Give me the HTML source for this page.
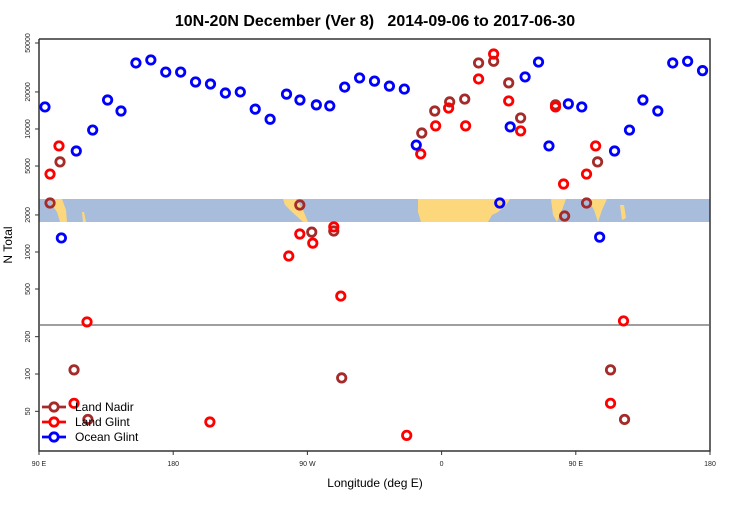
<!DOCTYPE html>
<html><head><meta charset="utf-8"><style>
body{margin:0;background:#fff;font-family:"Liberation Sans",sans-serif}
</style></head><body>
<svg id="c" width="750" height="500" xmlns="http://www.w3.org/2000/svg">
<text x="375" y="26" text-anchor="middle" font-size="16" font-weight="bold" style="white-space:pre">10N-20N December (Ver 8)   2014-09-06 to 2017-06-30</text>
<g>
<rect x="39" y="199" width="671" height="23" fill="#a7bddb"/>
<g fill="#fdd77b">
<polygon points="52,199 62,199 66,210 67,222 60,222 57,212 52,205"/>
<polygon points="283,199 296,199 303,210 308,222 303,222 292,212 285,205"/>
<polygon points="418,199 510,199 506,205 498,212 492,215 488,222 421,222 418,212"/>
<polygon points="551,199 566,199 562,210 557,222 553,215"/>
<polygon points="588,199 607,199 602,210 598,222 594,210"/>
<polygon points="620,205 624,205 626,218 622,220"/>
<polygon points="82,212 84,212 86,222 83,222"/>
</g></g>
<g id="axes" fill="none" stroke="#333" stroke-width="1.5">
<polyline points="39,39 710,39 710,451 39,451 39,39"/>
<line x1="39" y1="325" x2="710" y2="325" stroke="#666" stroke-width="1.2"/>
</g>
<text transform="translate(12,245) rotate(-90)" text-anchor="middle" font-size="12">N Total</text>
<text x="375" y="487" text-anchor="middle" font-size="12">Longitude (deg E)</text>
<g id="ticks" font-size="7" fill="#222"></g>
<g id="marks"></g>
<g id="legend"></g>
</svg>
<script>
const xTicks=[90,180,270,360,450,540];
const xTickLabels=["90 E","180","90 W","0","90 E","180"];
const yTicksUpper=[50000,20000,10000,5000,2000,1000,500];
const yTicksLower=[200,100,50];
const seriesNames=["Land Nadir","Land Glint","Ocean Glint"];
const seriesColors=["#a52a2a","#ff0000","#0000ff"];
const nadirLon=[97.4,104.1,113.5,122.8,264.9,272.9,287.7,293,346.7,355.4,365.4,375.5,384.8,394.9,405,413,436.4,442.5,457.2,464.6,473.3,482.7];
const nadirVal=[2500,5400,108,43,2410,1450,1480,93,9270,14000,16600,17500,34400,35500,23700,12300,15700,1960,2500,5400,108,43];
const glintLon=[97.4,103.4,122.2,113.5,204.6,257.5,264.9,273.6,287.7,292.4,336.6,346,356,364.7,376.1,384.8,394.9,405,413,436.4,441.8,457.2,463.3,482,473.3];
const glintVal=[4300,7280,270,58,41,927,1400,1180,1600,438,32,6270,10600,14800,10600,25500,40700,16900,9640,15100,3570,4300,7280,275,58];
const oceanLon=[94,115,126,136,145,155,165,175,185,195,205,215,225,235,245,256,265,276,285,295,305,315,325,335,343,399,406,416,425,432,445,454,466,476,486,495,505,515,525,535,105];
const oceanVal=[15100,6620,9800,17200,14000,34400,36400,29000,29000,24100,23200,19600,20000,14500,12000,19200,17200,15700,15400,21900,26000,24500,22300,21100,7400,2500,10400,26500,35000,7280,16000,15100,1320,6620,9800,17200,14000,34400,35500,29800,1300];

const NS="http://www.w3.org/2000/svg";
function xs(l){return 39+(l-90)*671/450;}
function ys(v){return v>=255?43+(Math.log10(50000)-Math.log10(v))*123:374-(Math.log10(v)-2)*124;}
function mk(t,a,p){const e=document.createElementNS(NS,t);for(const k in a)e.setAttribute(k,a[k]);p.appendChild(e);return e;}
const tk=document.getElementById('ticks');
xTicks.forEach((v,i)=>{
  const l=mk('line',{x1:xs(v),x2:xs(v),y1:451,y2:455,stroke:'#333'},tk);
  
  
  const t=mk('text',{x:xs(v),y:466,'text-anchor':'middle'},tk);t.textContent=xTickLabels[i];
  
  
});
yTicksUpper.concat(yTicksLower).forEach(v=>{
  const y=ys(v);
  const l=mk('line',{x1:35,x2:39,y1:y,y2:y,stroke:'#333'},tk);
  
  
  const t=mk('text',{transform:`translate(30,${y}) rotate(-90)`,'text-anchor':'middle'},tk);t.textContent=v;
  
  
});
const mg=document.getElementById('marks');
[[nadirLon,nadirVal],[glintLon,glintVal],[oceanLon,oceanVal]].forEach((s,si)=>{
  s[0].forEach((l,i)=>{
    const c=mk('circle',{cx:xs(l),cy:ys(s[1][i]),r:4.2,fill:'none',stroke:seriesColors[si],'stroke-width':2.8},mg);
    
    
  });
});
const lg=document.getElementById('legend');
seriesNames.forEach((n,i)=>{
  const y=407+i*15;
  const g=mk('g',{},lg);
  
  
  mk('line',{x1:42,x2:66,y1:y,y2:y,stroke:seriesColors[i],'stroke-width':2.8},g);
  mk('circle',{cx:54,cy:y,r:4.2,fill:'#fff',stroke:seriesColors[i],'stroke-width':2.8},g);
  const t=mk('text',{x:75,y:y+4,'font-size':12},g);t.textContent=n;
});
</script>
</body></html>
